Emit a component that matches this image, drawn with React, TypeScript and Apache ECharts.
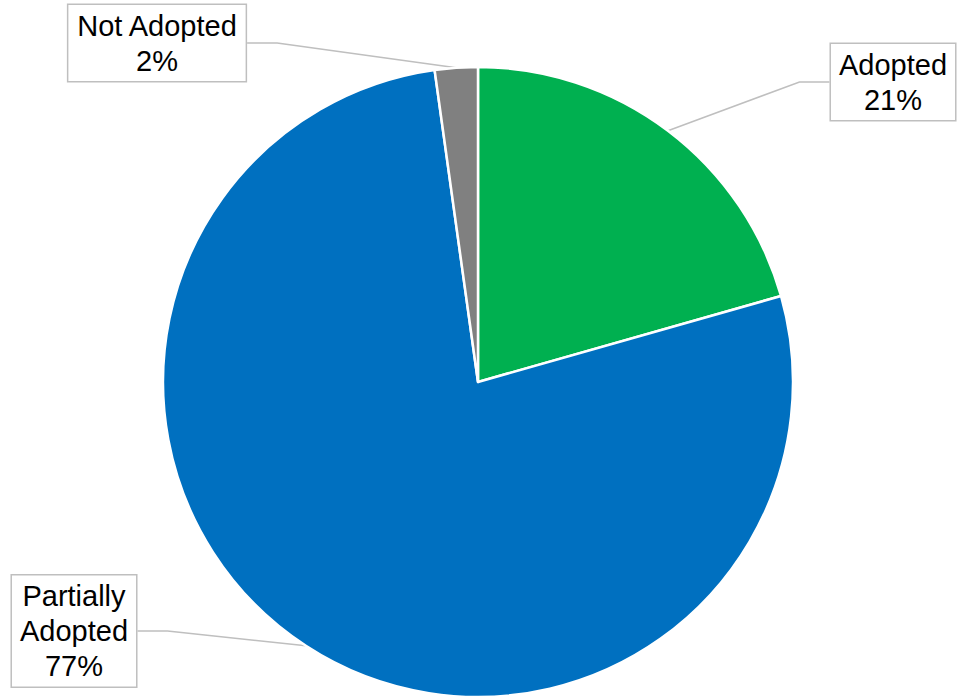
import React, { useEffect, useRef } from "react";
import * as echarts from "echarts";

const categories = ["Adopted", "Partially Adopted", "Not Adopted"];
const labelTexts = ["Adopted", "Partially\nAdopted", "Not Adopted"];
const values = [20.6, 77.2, 2.2];
const colors = ["#00B050", "#0070C0", "#808080"];
// label box centres (layout)
const labelCenters = [
  [893, 82],
  [74, 631],
  [157, 43],
];

export default function App() {
  const ref = useRef<HTMLDivElement>(null);
  useEffect(() => {
    if (!ref.current) return;
    const chart = echarts.init(ref.current, null, { renderer: "svg" });
    chart.setOption({
      animation: false,
      backgroundColor: "#ffffff",
      series: [
        {
          type: "pie",
          center: [478, 382],
          radius: [0, 315],
          startAngle: 90,
          clockwise: true,
          avoidLabelOverlap: false,
          itemStyle: { borderColor: "#ffffff", borderWidth: 2.5 },
          data: categories.map((c, i) => ({
            name: c,
            value: values[i],
            itemStyle: { color: colors[i] },
          })),
          label: {
            show: true,
            position: "outside",
            formatter: (p: any) => `${labelTexts[p.dataIndex]}\n${Math.round(p.percent)}%`,
            fontFamily: "'Liberation Sans', Arial, sans-serif",
            fontSize: 29,
            lineHeight: 35,
            color: "#000000",
            align: "center",
            backgroundColor: "#ffffff",
            borderColor: "#bfbfbf",
            borderWidth: 1.5,
            padding: [3, 8],
          },
          labelLine: {
            show: true,
            lineStyle: { color: "#bfbfbf", width: 1.5 },
          },
          labelLayout: (params: any) => {
            const c = labelCenters[params.dataIndex];
            return {
              x: c[0],
              y: c[1],
              align: "center",
              verticalAlign: "middle",
            };
          },
        },
      ],
    });
    return () => chart.dispose();
  }, []);
  return (
    <div
      ref={ref}
      style={{ position: "fixed", left: 0, top: 0, width: 958, height: 698 }}
    />
  );
}
